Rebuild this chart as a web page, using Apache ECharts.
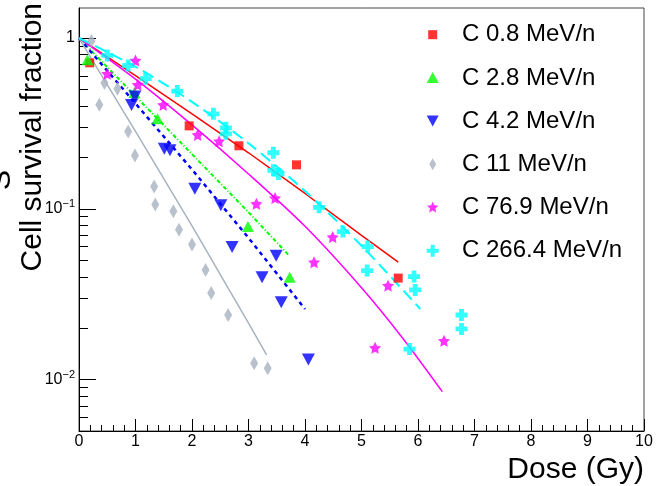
<!DOCTYPE html>
<html>
<head>
<meta charset="utf-8">
<script src="https://cdn.jsdelivr.net/npm/echarts@6/dist/echarts.min.js"></script>
<style>html,body{margin:0;padding:0;background:#fff;}#c{width:663px;height:486px;}</style>
</head>
<body>
<div id="c"></div>
<script>
// ---- data ----
const seriesNames = ['C 0.8 MeV/n', 'C 2.8 MeV/n', 'C 4.2 MeV/n', 'C 11 MeV/n', 'C 76.9 MeV/n', 'C 266.4 MeV/n'];

const dose08 = [0.19, 1.95, 2.83, 3.85, 5.65];
const sf08   = [0.716, 0.306, 0.234, 0.181, 0.0393];

const dose28 = [0.15, 0.98, 1.39, 2.99, 3.73];
const sf28   = [0.746, 0.48, 0.337, 0.0788, 0.0398];

const dose42 = [0.93, 0.99, 1.51, 1.61, 2.05, 2.51, 2.71, 3.24, 3.49, 3.58, 4.06];
const sf42   = [0.406, 0.455, 0.225, 0.22, 0.131, 0.105, 0.0597, 0.0398, 0.0532, 0.0284, 0.0131];

const dose11 = [0.22, 0.36, 0.45, 0.68, 0.87, 0.99, 1.33, 1.35, 1.67, 1.77, 2.0, 2.24, 2.34, 2.64, 3.10, 3.34];
const sf11   = [0.96, 0.407, 0.545, 0.505, 0.284, 0.205, 0.135, 0.106, 0.0969, 0.0753, 0.0618, 0.0439, 0.0321, 0.0239, 0.01247, 0.01166];

const dose769 = [0.5, 1.0, 1.04, 1.49, 2.1, 2.48, 3.14, 3.47, 4.16, 4.49, 5.24, 5.47, 6.46];
const sf769   = [0.618, 0.739, 0.533, 0.406, 0.271, 0.249, 0.107, 0.1156, 0.0487, 0.0683, 0.01534, 0.0355, 0.0169];

const dose2664 = [0.5, 0.87, 1.18, 1.74, 2.38, 2.6, 2.6, 3.44, 3.44, 3.53, 4.25, 4.67, 5.10, 5.11, 5.85, 5.93, 5.95, 6.77, 6.77];
const sf2664   = [0.791, 0.691, 0.578, 0.489, 0.36, 0.298, 0.275, 0.213, 0.168, 0.16, 0.102, 0.0736, 0.0435, 0.0601, 0.0151, 0.0401, 0.0335, 0.0239, 0.0198];

// fitted curves
const fitDose08 = [0, 1, 2, 3, 4, 5, 5.65];
const fitSf08   = [1, 0.603, 0.36, 0.213, 0.123, 0.070, 0.0487];
const fitDose28 = [0, 1, 2, 3, 3.72];
const fitSf28   = [1, 0.457, 0.209, 0.0955, 0.0532];
const fitDose42 = [0, 1, 2, 3, 4];
const fitSf42   = [1, 0.414, 0.170, 0.0676, 0.0259];
const fitDose11 = [0, 1, 2, 3, 3.32];
const fitSf11   = [1, 0.284, 0.0794, 0.0214, 0.01395];
const fitDose769 = [0, 1, 2, 3, 4, 5, 5.74, 6.43];
const fitSf769   = [1, 0.575, 0.31, 0.160, 0.079, 0.0345, 0.0173, 0.0085];
const fitDose2664 = [0, 1, 2, 3, 4, 5, 6.04];
const fitSf2664   = [1, 0.679, 0.423, 0.242, 0.127, 0.0608, 0.0259];

const xTicks = [0, 1, 2, 3, 4, 5, 6, 7, 8, 9, 10];
const yMajorTicks = [0.01, 0.1, 1];
const yMinorTicks = [0.006, 0.007, 0.008, 0.009, 0.02, 0.03, 0.04, 0.05, 0.06, 0.07, 0.08, 0.09,
                     0.2, 0.3, 0.4, 0.5, 0.6, 0.7, 0.8, 0.9];

// ---- helpers ----
function pairs(xs, ys) { return xs.map((x, i) => [x, ys[i]]); }

const FONT = 'Liberation Sans, Arial, Helvetica, sans-serif';
const SYM_TRI_DOWN = 'path://M0,0L10,0L5,9Z';
const SYM_STAR = 'path://M50,0L64.69,29.77L97.55,34.55L73.78,57.73L79.39,90.45L50,75L20.61,90.45L26.22,57.73L2.45,34.55L35.31,29.77Z';
const SYM_CROSS = 'path://M3,0h4v3h3v4h-3v3h-4v-3h-3v-4h3z';

// legend icons: shape centred in a wide invisible box so text lands at the right place
const LW = 48.6, LH = 12;
function legIcon(shape) { return 'path://M0,0M' + LW + ',' + LH + shape; }
const cx = LW / 2;
const legendIcons = [
  legIcon(`M${cx-4.5},${1.5}h9v9h-9z`),
  legIcon(`M${cx},0L${cx+6},11L${cx-6},11Z`),
  legIcon(`M${cx-6},0.5L${cx+6},0.5L${cx},11.5Z`),
  legIcon(`M${cx},0L${cx+3.5},6L${cx},12L${cx-3.5},6Z`),
  legIcon(`M${cx},0L${cx+1.6},3.8L${cx+5.7},4.3L${cx+2.7},7.1L${cx+3.5},11.1L${cx},9L${cx-3.5},11.1L${cx-2.7},7.1L${cx-5.7},4.3L${cx-1.6},3.8Z`),
  legIcon(`M${cx-2},0h4v4h4v4h-4v4h-4v-4h-4v-4h4z`)
];

const colors = ['#ff0000', '#00ff00', '#0000ff', '#a7b3bf', '#ff00ff', '#00ffff'];

function scatter(name, xs, ys, color, symbol, size) {
  return {
    name: name, type: 'scatter', xAxisIndex: 0, yAxisIndex: 0,
    data: pairs(xs, ys), symbol: symbol, symbolSize: size,
    itemStyle: { color: color }, z: 5, silent: true
  };
}
function fit(name, xs, ys, color, width, dash, smooth) {
  return {
    name: name, type: 'line', xAxisIndex: 0, yAxisIndex: 0,
    data: pairs(xs, ys), symbol: 'none', smooth: smooth ? 0.3 : false,
    lineStyle: { color: color, width: width, type: dash }, z: 3, silent: true
  };
}

const chart = echarts.init(document.getElementById('c'), null, { renderer: 'canvas' });

const supLabel = function (v) {
  const e = Math.round(Math.log10(v));
  if (e === 0) return '{b|1}';
  return '{b|10}{s|\u2212' + Math.abs(e) + '}';
};

const option = {
  animation: false,
  backgroundColor: '#ffffff',
  grid: { left: 79, right: 19, top: 8, bottom: 55, show: true, borderColor: '#444', borderWidth: 1, backgroundColor: 'transparent' },
  xAxis: [{
    type: 'value', min: 0, max: 10, interval: 1,
    axisLine: { show: true, onZero: false, lineStyle: { color: '#000', width: 1 } },
    axisTick: { show: true, inside: true, length: 12, lineStyle: { color: '#000' } },
    minorTick: { show: true, splitNumber: 5, length: 6, lineStyle: { color: '#000' } },
    axisLabel: { show: true, margin: 3, color: '#000', fontSize: 16, fontFamily: FONT,
                 customValues: xTicks },
    splitLine: { show: false }, minorSplitLine: { show: false }
  }],
  yAxis: [{
    type: 'log', logBase: 10, min: 0.005, max: 1.5,
    axisLine: { show: true, lineStyle: { color: '#000', width: 1 } },
    axisTick: { show: true, inside: true, length: 17, customValues: yMajorTicks, lineStyle: { color: '#000' } },
    axisLabel: { show: true, margin: 4, customValues: yMajorTicks, formatter: supLabel,
      rich: {
        b: { fontSize: 16, fontFamily: FONT, color: '#000' },
        s: { fontSize: 11, fontFamily: FONT, color: '#000', padding: [0, 0, 9, 0] }
      }
    },
    splitLine: { show: false }
  }, {
    type: 'log', logBase: 10, min: 0.005, max: 1.5, position: 'left',
    axisLine: { show: false },
    axisTick: { show: true, inside: true, length: 9, customValues: yMinorTicks, lineStyle: { color: '#000' } },
    axisLabel: { show: false },
    splitLine: { show: false }
  }],
  legend: {
    show: true, orient: 'vertical', left: 432.7 - LW / 2, top: 22.7, padding: 0,
    itemWidth: LW, itemHeight: LH, itemGap: 19.2,
    textStyle: { fontSize: 24, fontFamily: FONT, color: '#000', lineHeight: 24 },
    data: seriesNames.map((n, i) => ({ name: n, icon: legendIcons[i], itemStyle: { color: colors[i] } })),
    selectedMode: false
  },
  graphic: [
    { type: 'text', x: 33, y: 3, rotation: Math.PI / 2,
      style: { text: 'Cell survival fraction', font: '30px ' + FONT, fill: '#000', align: 'right', verticalAlign: 'middle' } },
    { type: 'text', x: 2, y: 170, rotation: Math.PI / 2,
      style: { text: 'S', font: '30px ' + FONT, fill: '#000', align: 'right', verticalAlign: 'middle' } },
    { type: 'text', x: 644, y: 470,
      style: { text: 'Dose (Gy)', font: '30px ' + FONT, fill: '#000', align: 'right', verticalAlign: 'middle' } }
  ],
  series: [
    fit('fit 0.8', fitDose08, fitSf08, colors[0], 1.5, 'solid'),
    fit('fit 2.8', fitDose28, fitSf28, colors[1], 2, [4, 2, 1, 2]),
    fit('fit 4.2', fitDose42, fitSf42, colors[2], 2.5, [4, 4]),
    fit('fit 11', fitDose11, fitSf11, colors[3], 1.5, 'solid'),
    fit('fit 76.9', fitDose769, fitSf769, colors[4], 1.5, 'solid', true),
    fit('fit 266.4', fitDose2664, fitSf2664, colors[5], 2, [12, 6], true),
    scatter(seriesNames[0], dose08, sf08, colors[0], 'rect', 9),
    scatter(seriesNames[1], dose28, sf28, colors[1], 'triangle', [12, 11]),
    scatter(seriesNames[2], dose42, sf42, colors[2], SYM_TRI_DOWN, [13, 12]),
    scatter(seriesNames[3], dose11, sf11, colors[3], 'diamond', [8, 14]),
    scatter(seriesNames[4], dose769, sf769, colors[4], SYM_STAR, 12),
    scatter(seriesNames[5], dose2664, sf2664, colors[5], SYM_CROSS, 12)
  ]
};
chart.setOption(option);
</script>
</body>
</html>
